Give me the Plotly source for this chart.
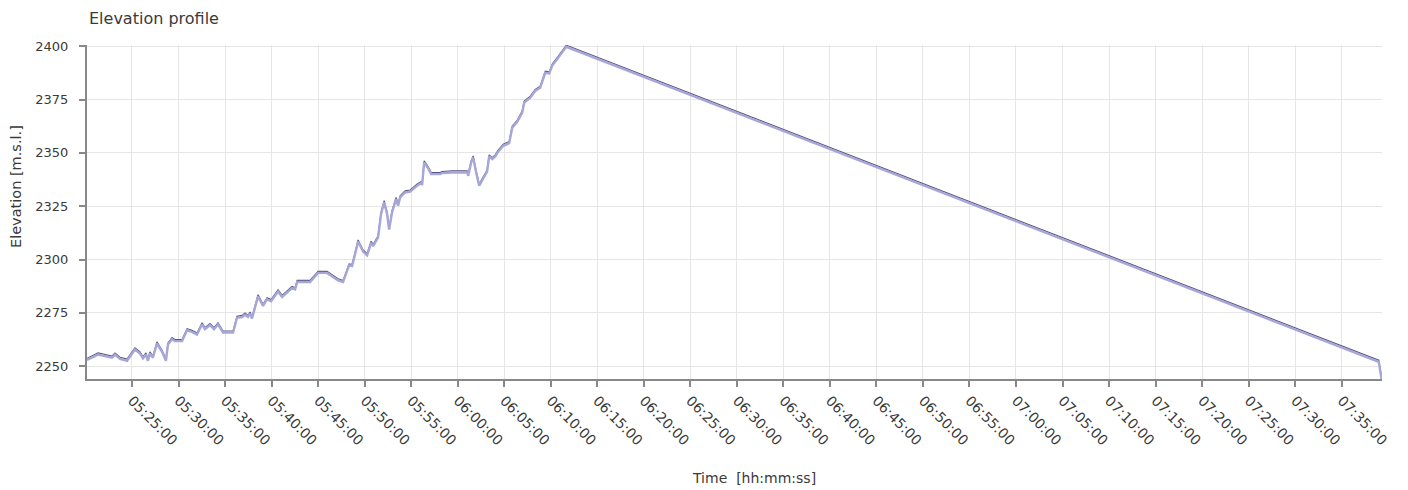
import plotly.graph_objects as go

DAY = "2024-01-01 "

times = [
    "05:20:10", "05:21:21", "05:22:51", "05:23:10", "05:23:43", "05:24:28", "05:25:19", "05:25:52",
    "05:26:11", "05:26:30", "05:26:43", "05:26:56", "05:27:15", "05:27:41", "05:28:14", "05:28:39",
    "05:28:52", "05:29:18", "05:29:37", "05:30:23", "05:30:55", "05:31:27", "05:31:59", "05:32:32",
    "05:32:51", "05:33:23", "05:33:49", "05:34:15", "05:34:47", "05:35:52", "05:36:17", "05:36:50",
    "05:37:09", "05:37:28", "05:37:41", "05:37:54", "05:38:33", "05:39:05", "05:39:31", "05:39:57",
    "05:40:42", "05:41:08", "05:42:12", "05:42:32", "05:42:45", "05:44:08", "05:45:00", "05:45:58",
    "05:47:09", "05:47:41", "05:48:20", "05:48:39", "05:48:59", "05:49:18", "05:49:50", "05:50:16",
    "05:50:42", "05:50:55", "05:51:27", "05:51:46", "05:52:06", "05:52:25", "05:52:38", "05:52:57",
    "05:53:23", "05:53:36", "05:53:49", "05:54:21", "05:54:54", "05:55:13", "05:55:39", "05:56:05",
    "05:56:11", "05:56:24", "05:56:50", "05:57:09", "05:58:07", "05:58:20", "05:59:25", "06:01:01",
    "06:01:08", "06:01:27", "06:01:40", "06:01:59", "06:02:19", "06:02:45", "06:03:10", "06:03:23",
    "06:03:43", "06:04:02", "06:04:21", "06:04:54", "06:05:32", "06:05:52", "06:06:24", "06:06:56",
    "06:07:09", "06:07:48", "06:08:20", "06:08:52", "06:09:25", "06:09:50", "06:10:10", "06:10:48",
    "06:11:14", "06:11:40", "07:38:59", "07:39:18",
]

elevation = [
    2253.7, 2256.2, 2254.7, 2256.2, 2254.2, 2253.3, 2258.6, 2256.7,
    2254.4, 2256.2, 2253.3, 2256.7, 2254.7, 2261.4, 2257.5, 2253.3,
    2260.9, 2263.4, 2262.5, 2262.5, 2267.6, 2266.8, 2265.6, 2270.4,
    2268.1, 2270.0, 2268.1, 2270.4, 2266.5, 2266.5, 2273.4, 2273.8,
    2274.9, 2273.8, 2275.4, 2273.1, 2283.5, 2279.0, 2282.1, 2281.2,
    2285.8, 2283.2, 2287.4, 2286.8, 2290.2, 2290.2, 2294.5, 2294.5,
    2291.0, 2290.2, 2298.0, 2297.7, 2303.4, 2309.2, 2304.5, 2302.7,
    2308.6, 2307.0, 2311.2, 2322.1, 2327.6, 2322.1, 2314.8, 2322.9,
    2329.1, 2326.0, 2329.9, 2332.2, 2332.6, 2333.8, 2335.4, 2336.6,
    2335.7, 2346.3, 2343.5, 2340.8, 2340.8, 2341.3, 2341.6, 2341.6,
    2340.0, 2346.3, 2348.6, 2341.6, 2335.4, 2338.8, 2342.0, 2349.1,
    2347.8, 2349.1, 2351.3, 2354.1, 2355.3, 2362.6, 2365.3, 2369.6,
    2374.3, 2376.6, 2379.8, 2381.3, 2388.3, 2388.0, 2391.7, 2395.3,
    2397.7, 2400.5, 2252.8, 2244.4,
]

x_range = ["05:20:10", "07:39:20"]
y_range = [2244.0, 2400.6]
tick_start = "05:25:00"
title_text = "Elevation profile"
x_title = "Time  [hh:mm:ss]"
y_title = "Elevation [m.s.l.]"

xs = [DAY + t for t in times]
shadow_shift = 0.75  # elevation units ~ 1.5px

fig = go.Figure()
fig.add_trace(go.Scatter(x=xs, y=elevation, mode="lines", yaxis="y2",
                         line=dict(color="#a6a6d8", width=2.4), hoverinfo="skip", showlegend=False))
fig.add_trace(go.Scatter(x=xs, y=elevation, mode="lines",
                         line=dict(color="#56567e", width=1.2), showlegend=False))

TXT = "#3a3a3a"
font = dict(family="DejaVu Sans", size=13, color=TXT)
OFF = 8  # page body margin
W, H = 1392, 482
# target plot area in page pixels
PL, PR, PT, PB = 87, 1382, 45, 379
L, R, T, B = PL - OFF, W - (PR - OFF), PT - OFF, H - (PB - OFF)
PW, PH = W - L - R, H - T - B


def px(xp):
    return (xp - PL) / PW


def py(yp):
    return (PB - yp) / PH


fig.update_layout(
    width=W, height=H,
    margin=dict(l=L, r=R, t=T, b=B, autoexpand=False),
    paper_bgcolor="white", plot_bgcolor="white",
    font=font,
    showlegend=False,
    xaxis=dict(
        type="date", range=[DAY + x_range[0], DAY + x_range[1]],
        tick0=DAY + tick_start, dtick=300000, tickformat="%H:%M:%S",
        tickangle=45, ticks="outside", ticklen=6, tickcolor="#888888", tickwidth=1.5,
        showline=True, linecolor="#888888", linewidth=2,
        showgrid=True, gridcolor="#e6e6e6", gridwidth=1,
        tickfont=dict(family="DejaVu Sans", size=14, color=TXT),
        zeroline=False, automargin=False,
    ),
    yaxis=dict(
        range=y_range, tick0=2250, dtick=25,
        ticks="outside", ticklen=6, tickcolor="#888888", tickwidth=1.5,
        showline=True, linecolor="#888888", linewidth=2,
        showgrid=True, gridcolor="#e6e6e6", gridwidth=1,
        tickfont=dict(family="DejaVu Sans", size=13, color=TXT),
        ticklabelstandoff=8,
        zeroline=False, automargin=False,
    ),
    yaxis2=dict(
        range=[y_range[0] + shadow_shift, y_range[1] + shadow_shift], overlaying="y",
        visible=False,
    ),
    annotations=[
        dict(text=title_text, xref="paper", yref="paper",
             x=px(87), y=py(19),
             xanchor="left", yanchor="middle", showarrow=False,
             font=dict(family="DejaVu Sans", size=16, color=TXT)),
        dict(text=x_title, xref="paper", yref="paper",
             x=px(754), y=py(478),
             xanchor="center", yanchor="middle", showarrow=False,
             font=dict(family="DejaVu Sans", size=14, color=TXT)),
        dict(text=y_title, xref="paper", yref="paper",
             x=px(16), y=py(187), textangle=-90,
             xanchor="center", yanchor="middle", showarrow=False,
             font=dict(family="DejaVu Sans", size=14.5, color=TXT)),
    ],
)

fig.write_html("out.html")
